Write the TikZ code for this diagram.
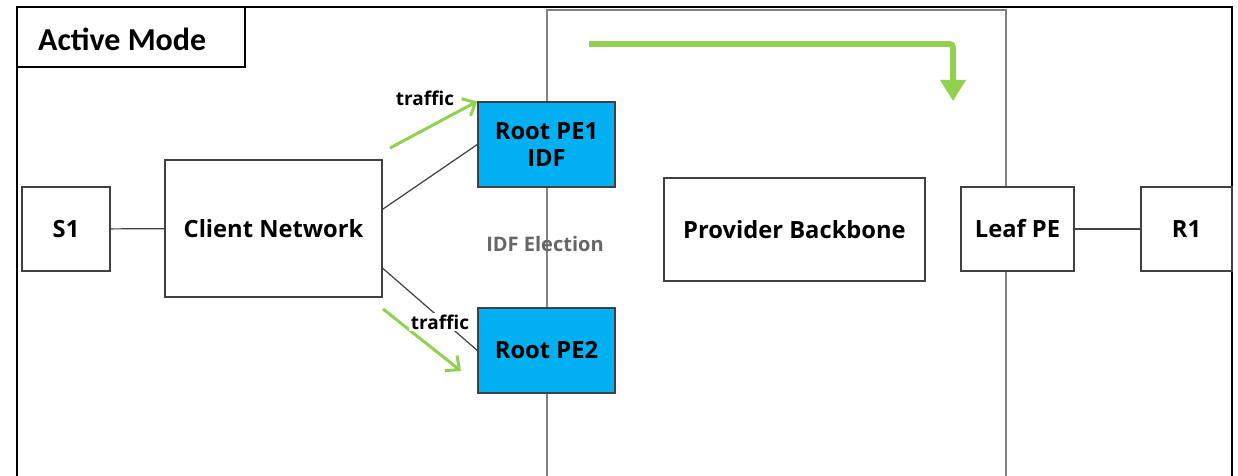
\documentclass[tikz,border=0pt]{standalone}
\usepackage{fontspec}
\setmainfont{Open Sans}
\newfontfamily\titlefont{Carlito}
\usepackage{tikz}
\usetikzlibrary{arrows.meta}
\definecolor{BlueRoot}{RGB}{0,176,240}
\definecolor{GreenFlow}{RGB}{146,208,80}
\definecolor{EdgeGray}{RGB}{64,64,64}

\tikzset{
  box/.style={draw=EdgeGray,line width=0.8pt,fill=white,font=\bfseries\fontsize{13.5}{15.5}\selectfont,
    align=center,inner sep=0pt},
  rootpe/.style={box,fill=BlueRoot},
  flow/.style={GreenFlow,line width=1.7pt,-{Straight Barb[length=6pt,width=11pt]}},
  tag/.style={fill=white,inner sep=1pt,font=\bfseries\fontsize{10.8}{12}\selectfont}
}

\begin{document}
\begin{tikzpicture}[x=0.02cm,y=-0.02cm]
  \useasboundingbox (0,0) rectangle (1238,476);
  % outer frame and provider domain
  \draw[line width=1.1pt] (17,476) -- (17,7) -- (1232,7) -- (1232,476);
  \draw[gray,line width=1.1pt] (547,476) -- (547,10) -- (1006,10) -- (1006,476);
  \draw[line width=0.9pt] (17,67) -| (245,7);
  \node[anchor=west,font=\titlefont\bfseries\fontsize{18.2}{21}\selectfont] (mode) at (32,39) {Active Mode};

  \node[gray!80!black,font=\bfseries\fontsize{11.4}{13}\selectfont] (idf) at (545,244) {IDF Election};

  % devices
  \node[box,minimum width=1.76cm,minimum height=1.68cm] (s1) at (66,229) {S1};
  \node[box,minimum width=4.34cm,minimum height=2.74cm] (client) at (273.5,228.5) {Client Network};
  \node[rootpe,minimum width=2.74cm,minimum height=1.7cm] (pe1) at (546.5,144.5) {Root PE1\\IDF};
  \node[rootpe,minimum width=2.74cm,minimum height=1.7cm] (pe2) at (546.5,350.5) {Root PE2};
  \node[box,minimum width=5.22cm,minimum height=2.06cm] (core) at (794.5,229.5) {Provider Backbone};
  \node[box,minimum width=2.26cm,minimum height=1.68cm] (leaf) at (1017.5,229) {Leaf PE};
  \node[box,minimum width=1.82cm,minimum height=1.68cm] (r1) at (1186.5,229) {R1};

  % links
  \draw[EdgeGray,line width=0.7pt] (s1) -- (client);
  \draw[EdgeGray,line width=0.7pt] (client.10) -- (pe1.west);
  \draw[EdgeGray,line width=0.7pt] (client.-20) -- (pe2.west);
  \draw[EdgeGray,line width=0.7pt] (leaf) -- (r1);

  % traffic
  \coordinate (up0) at (390,148);
  \coordinate (dn0) at (383,309);
  \coordinate (dn1) at (461,371);
  \draw[flow] (up0) -- (pe1.north west);
  \draw[flow] (dn0) -- (dn1);
  \node[tag] (tup) at (425,98) {traffic};
  \node[tag] (tdn) at (440,322) {traffic};

  \coordinate (bb0) at (589,44);
  \coordinate (bb1) at (953,101);
  \draw[GreenFlow,line width=3.4pt,rounded corners=2pt,-{Triangle[length=12pt,width=14pt]}]
    (bb0) -| (bb1);
\end{tikzpicture}
\end{document}
